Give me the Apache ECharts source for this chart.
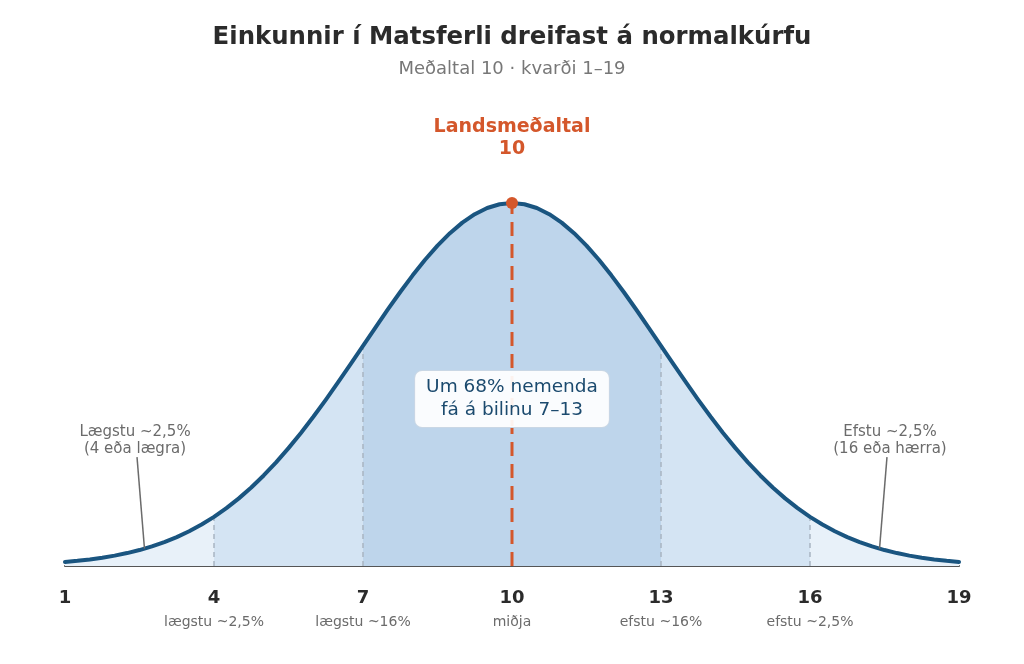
<!DOCTYPE html>
<html><head><meta charset="utf-8">
<script src="https://cdn.jsdelivr.net/npm/echarts@6/dist/echarts.min.js"></script>
<style>html,body{margin:0;padding:0;background:#fff}#c{width:1024px;height:664px}</style>
</head><body><div id="c"></div>
<script>
// Scores on the 1–19 scale (x) and relative height of the curve (peak = 1)
const scores = [1,1.25,1.5,1.75,2,2.25,2.5,2.75,3,3.25,3.5,3.75,4,4.25,4.5,4.75,5,5.25,5.5,5.75,6,6.25,6.5,6.75,7,7.25,7.5,7.75,8,8.25,8.5,8.75,9,9.25,9.5,9.75,10,
  10.25,10.5,10.75,11,11.25,11.5,11.75,12,12.25,12.5,12.75,13,13.25,13.5,13.75,14,14.25,14.5,14.75,15,15.25,15.5,15.75,16,16.25,16.5,16.75,17,17.25,17.5,17.75,18,18.25,18.5,18.75,19];
const density = [0.0111,0.0142,0.0181,0.0228,0.0286,0.0356,0.0439,0.0539,0.0657,0.0796,0.0956,0.1142,0.1353,0.1593,0.1863,0.2163,0.2494,0.2855,0.3247,0.3666,0.4111,0.4578,0.5063,0.5561,0.6065,0.6570,0.7067,0.7548,0.8007,0.8436,0.8825,0.9169,0.9460,0.9692,0.9862,0.9965,1.0000,
  0.9965,0.9862,0.9692,0.9460,0.9169,0.8825,0.8436,0.8007,0.7548,0.7067,0.6570,0.6065,0.5561,0.5063,0.4578,0.4111,0.3666,0.3247,0.2855,0.2494,0.2163,0.1863,0.1593,0.1353,0.1142,0.0956,0.0796,0.0657,0.0539,0.0439,0.0356,0.0286,0.0228,0.0181,0.0142,0.0111];
const tickValues = [1,4,7,10,13,16,19];
const tickNotes = ['', 'lægstu ~2,5%', 'lægstu ~16%', 'miðja', 'efstu ~16%', 'efstu ~2,5%', ''];
const bandEdges = [1,4,7,13,16,19];
const separators = [4,7,13,16];
const meanScore = 10;
const centerNote = 'Um 68% nemenda\nfá á bilinu 7–13';
const centerNoteHeight = 0.46;
const lowNote = 'Lægstu ~2,5%\n(4 eða lægra)';
const highNote = 'Efstu ~2,5%\n(16 eða hærra)';
const lowLeader = [[2.45, 0.30], [2.6, 0.048]];
const highLeader = [[17.55, 0.30], [17.4, 0.048]];

const pts = scores.map((s, i) => [s, density[i]]);
const at = x => density[scores.indexOf(x)];
const FONT = 'DejaVu Sans';
const bandColors = ['#e8f1f9', '#d4e4f3', '#bed5eb', '#d4e4f3', '#e8f1f9'];

const series = [];
for (let b = 0; b < bandEdges.length - 1; b++) {
  const a = bandEdges[b], e = bandEdges[b + 1];
  series.push({
    type: 'line', data: pts.filter(p => p[0] >= a && p[0] <= e), showSymbol: false, silent: true,
    lineStyle: { width: 0 }, areaStyle: { color: bandColors[b], opacity: 1 }, z: 1
  });
}
separators.forEach(x => series.push({
  type: 'line', data: [[x, 0], [x, at(x)]], showSymbol: false, silent: true,
  lineStyle: { color: '#a9b4c2', width: 1.5, type: [5, 4] }, z: 2
}));
series.push({
  type: 'line', data: [[meanScore, 0], [meanScore, at(meanScore)]], showSymbol: false, silent: true,
  lineStyle: { color: '#d4572b', width: 3, type: [14, 8] }, z: 3
});
series.push({
  type: 'line', data: pts, showSymbol: false, silent: true,
  lineStyle: { color: '#1a5580', width: 4, cap: 'round', join: 'round' }, z: 4
});
// leader lines
[lowLeader, highLeader].forEach(l => series.push({
  type: 'line', data: l, showSymbol: false, silent: true,
  lineStyle: { color: '#6b6b6b', width: 1.5 }, z: 5
}));
series.push({
  type: 'scatter', silent: true, z: 6,
  data: [
    { value: lowLeader[0], label: { formatter: lowNote, offset: [-2, 0] } },
    { value: highLeader[0], label: { formatter: highNote, offset: [3, 0] } }
  ],
  symbolSize: 0, itemStyle: { opacity: 1 },
  label: { show: true, position: 'top', distance: -1, color: '#6b6b6b', fontFamily: FONT, fontSize: 15, lineHeight: 17, align: 'center' }
});
series.push({
  type: 'scatter', silent: true, z: 7,
  data: [[meanScore, at(meanScore)]],
  symbolSize: 12, itemStyle: { color: '#d4572b', opacity: 1 },
  label: { show: true, position: 'top', distance: 37, formatter: 'Landsmeðaltal\n' + meanScore,
    color: '#d4572b', fontFamily: FONT, fontSize: 19, fontWeight: 'bold', lineHeight: 22, align: 'center' }
});
series.push({
  type: 'scatter', silent: true, z: 8,
  data: [[meanScore, centerNoteHeight]], symbolSize: 0, itemStyle: { opacity: 1 },
  label: { show: true, position: 'inside', formatter: centerNote, color: '#1b4a6e', fontFamily: FONT, fontSize: 18.5, lineHeight: 23,
    align: 'center', backgroundColor: 'rgba(255,255,255,0.92)', borderColor: '#c9d7e5', borderWidth: 1, borderRadius: 7, padding: [5, 11] }
});

const chart = echarts.init(document.getElementById('c'));
chart.setOption({
  animation: false,
  backgroundColor: '#fff',
  title: {
    text: 'Einkunnir í Matsferli dreifast á normalkúrfu',
    subtext: 'Meðaltal 10 · kvarði 1–19',
    left: 'center', top: 21, itemGap: 10,
    textStyle: { fontFamily: FONT, fontSize: 24.4, fontWeight: 'bold', color: '#2b2b2b' },
    subtextStyle: { fontFamily: FONT, fontSize: 18, color: '#777' }
  },
  grid: { left: 65, right: 65, top: 166.7, bottom: 98 },
  xAxis: {
    type: 'value', min: 1, max: 19, interval: 3,
    axisLine: { lineStyle: { color: '#555', width: 2 } },
    axisTick: { show: false }, splitLine: { show: false },
    axisLabel: {
      margin: 20,
      formatter: v => { const i = tickValues.indexOf(v); const n = i >= 0 ? tickNotes[i] : ''; return '{a|' + v + '}\n{b|' + (n || ' ') + '}'; },
      rich: {
        a: { fontFamily: FONT, fontSize: 18, fontWeight: 'bold', color: '#2b2b2b', lineHeight: 24 },
        b: { fontFamily: FONT, fontSize: 14, color: '#6b6b6b', lineHeight: 24 }
      }
    }
  },
  yAxis: { type: 'value', min: 0, max: 1.1, show: false },
  series
});
</script></body></html>
